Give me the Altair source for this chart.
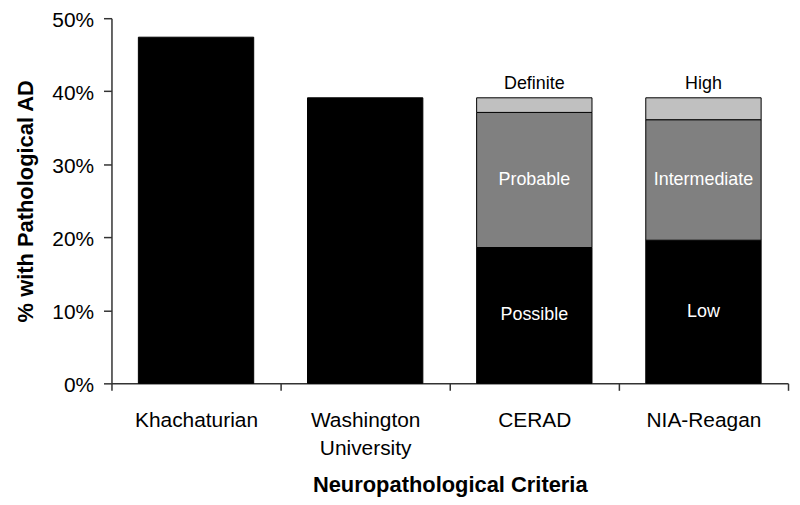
import altair as alt
import pandas as pd

# ---- data ----
cat_order = ["Khachaturian", "Washington University", "CERAD", "NIA-Reagan"]
criteria = ["Khachaturian", "Washington University", "CERAD", "CERAD", "CERAD",
            "NIA-Reagan", "NIA-Reagan", "NIA-Reagan"]
segments = ["Total", "Total", "Possible", "Probable", "Definite",
            "Low", "Intermediate", "High"]
levels = ["base", "base", "base", "mid", "top", "base", "mid", "top"]
stack_order = [1, 1, 1, 2, 3, 1, 2, 3]
values = [47.4, 39.1, 18.6, 18.5, 2.0, 19.6, 16.5, 3.0]

level_domain = ["base", "mid", "top"]
level_colors = ["#000000", "#808080", "#c0c0c0"]
y_ticks = [0, 10, 20, 30, 40, 50]

df = pd.DataFrame({
    "criteria": criteria,
    "segment": segments,
    "level": levels,
    "order": stack_order,
    "value": values,
})

FONT = "Liberation Sans"

x_axis = alt.Axis(
    title="Neuropathological Criteria",
    labelAngle=0,
    tickBand="extent",
    labelExpr="split(datum.label, ' ')",
    labelFontSize=21,
    labelLineHeight=28.5,
    labelPadding=19,
    labelColor="black",
    tickSize=7,
    tickColor="#333333",
    domainColor="#333333",
    domainWidth=1.5,
    tickWidth=1.5,
    titleFontSize=22,
    titleFontWeight="bold",
    titleColor="black",
    titlePadding=16,
    labelFont=FONT,
    titleFont=FONT,
)
x_scale = alt.Scale(paddingInner=0, paddingOuter=0)

y_axis = alt.Axis(
    title="% with Pathological AD",
    values=y_ticks,
    labelExpr="datum.value + '%'",
    grid=False,
    labelFontSize=21,
    labelPadding=10,
    labelOffset=2,
    labelColor="black",
    tickSize=8,
    tickColor="#333333",
    domainColor="#333333",
    domainWidth=1.5,
    tickWidth=1.5,
    titleFontSize=22,
    titleFontWeight="bold",
    titleColor="black",
    titlePadding=14,
    labelFont=FONT,
    titleFont=FONT,
)
y_scale = alt.Scale(domain=[0, 50])

bars = alt.Chart(df).mark_bar(
    stroke="black", strokeWidth=1, width=alt.RelativeBandSize(0.682)
).encode(
    x=alt.X("criteria:N", sort=cat_order, scale=x_scale, axis=x_axis),
    y=alt.Y("value:Q", stack="zero", scale=y_scale, axis=y_axis),
    color=alt.Color("level:N",
                    scale=alt.Scale(domain=level_domain, range=level_colors),
                    legend=None),
    order=alt.Order("order:Q", sort="ascending"),
)

stacked = alt.Chart(df).transform_stack(
    stack="value",
    groupby=["criteria"],
    sort=[alt.SortField("order", order="ascending")],
    as_=["y0", "y1"],
).transform_calculate(mid="(datum.y0 + datum.y1) / 2")

inner = stacked.transform_filter(
    "datum.segment != 'Total' && datum.level != 'top'"
).mark_text(color="white", fontSize=18, font=FONT, baseline="middle").encode(
    x=alt.X("criteria:N", sort=cat_order, scale=x_scale, axis=x_axis),
    y=alt.Y("mid:Q", scale=y_scale, axis=y_axis),
    text="segment:N",
)

top = stacked.transform_filter("datum.level == 'top'").mark_text(
    color="black", fontSize=18, font=FONT, baseline="alphabetic", dy=-9
).encode(
    x=alt.X("criteria:N", sort=cat_order, scale=x_scale, axis=x_axis),
    y=alt.Y("y1:Q", scale=y_scale, axis=y_axis),
    text="segment:N",
)

chart = alt.layer(bars, inner, top).properties(
    width=680,
    height=367,
    autosize=alt.AutoSizeParams(type="none"),
    padding={"left": 104, "top": 9, "right": 4, "bottom": 118},
).configure_view(stroke=None)

chart.save("out.html", embed_options={"renderer": "svg", "actions": False})
